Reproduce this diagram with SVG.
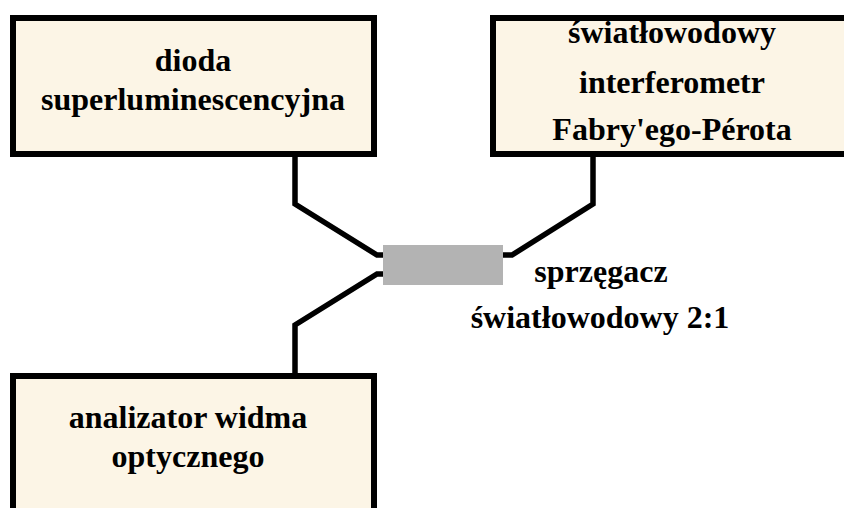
<svg xmlns="http://www.w3.org/2000/svg" width="844" height="508" viewBox="0 0 844 508">
<style>
.box{fill:#fcf5e6;stroke:#000;stroke-width:6}
.wire{fill:none;stroke:#000;stroke-width:5.5;stroke-linejoin:miter}
.t{font-family:"Liberation Serif","Times New Roman",serif;font-weight:bold;font-size:32px;fill:#000;text-anchor:middle}
</style>
<rect width="844" height="508" fill="#fff"/>
<g id="connectors">
<polyline class="wire" points="295,157 295,204 377,255 384,255"/>
<polyline class="wire" points="384,274 377,274 295,325 295,376"/>
<polyline class="wire" points="593,157 593,204 512,255 502,255"/>
</g>
<g id="dioda">
<rect class="box" x="13" y="18" width="361" height="136"/>
<text class="t" x="193" y="71">dioda</text>
<text class="t" x="193" y="110">superluminescencyjna</text>
</g>
<g id="interferometr">
<rect class="box" x="493" y="18" width="370" height="136"/>
<text class="t" x="672" y="43">światłowodowy</text>
<text class="t" x="672" y="93">interferometr</text>
<text class="t" x="672" y="140">Fabry'ego-Pérota</text>
</g>
<g id="analizator">
<rect class="box" x="13" y="376" width="361" height="150"/>
<text class="t" x="188" y="428">analizator widma</text>
<text class="t" x="188" y="467">optycznego</text>
</g>
<g id="sprzegacz">
<rect x="383" y="245" width="120" height="40" fill="#b3b3b3"/>
<text class="t" x="601" y="282">sprzęgacz</text>
<text class="t" x="600" y="328">światłowodowy 2:1</text>
</g>
</svg>
